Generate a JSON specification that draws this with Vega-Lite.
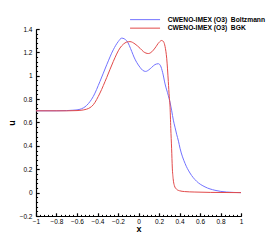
{
  "$schema": "https://vega.github.io/schema/vega-lite/v6.json",
  "autosize": "none",
  "width": 205,
  "height": 187,
  "padding": {"left": 36, "top": 29, "right": 33, "bottom": 28},
  "background": "white",
  "config": {
    "view": {"stroke": null},
    "font": "Liberation Sans",
    "axis": {"labelFont": "Liberation Sans", "titleFont": "Liberation Sans", "labelColor": "black", "titleColor": "black", "grid": false}
  },
  "datasets": {
    "curves": [
      {"x": -1.0, "u": 0.700, "s": "CWENO-IMEX (O3)\u00a0\u00a0Boltzmann"},
      {"x": -0.8, "u": 0.700, "s": "CWENO-IMEX (O3)\u00a0\u00a0Boltzmann"},
      {"x": -0.7, "u": 0.702, "s": "CWENO-IMEX (O3)\u00a0\u00a0Boltzmann"},
      {"x": -0.64, "u": 0.705, "s": "CWENO-IMEX (O3)\u00a0\u00a0Boltzmann"},
      {"x": -0.6, "u": 0.708, "s": "CWENO-IMEX (O3)\u00a0\u00a0Boltzmann"},
      {"x": -0.571, "u": 0.713, "s": "CWENO-IMEX (O3)\u00a0\u00a0Boltzmann"},
      {"x": -0.506, "u": 0.746, "s": "CWENO-IMEX (O3)\u00a0\u00a0Boltzmann"},
      {"x": -0.441, "u": 0.823, "s": "CWENO-IMEX (O3)\u00a0\u00a0Boltzmann"},
      {"x": -0.376, "u": 0.951, "s": "CWENO-IMEX (O3)\u00a0\u00a0Boltzmann"},
      {"x": -0.31, "u": 1.094, "s": "CWENO-IMEX (O3)\u00a0\u00a0Boltzmann"},
      {"x": -0.246, "u": 1.222, "s": "CWENO-IMEX (O3)\u00a0\u00a0Boltzmann"},
      {"x": -0.197, "u": 1.293, "s": "CWENO-IMEX (O3)\u00a0\u00a0Boltzmann"},
      {"x": -0.164, "u": 1.322, "s": "CWENO-IMEX (O3)\u00a0\u00a0Boltzmann"},
      {"x": -0.115, "u": 1.299, "s": "CWENO-IMEX (O3)\u00a0\u00a0Boltzmann"},
      {"x": -0.066, "u": 1.208, "s": "CWENO-IMEX (O3)\u00a0\u00a0Boltzmann"},
      {"x": -0.044, "u": 1.16, "s": "CWENO-IMEX (O3)\u00a0\u00a0Boltzmann"},
      {"x": -0.018, "u": 1.115, "s": "CWENO-IMEX (O3)\u00a0\u00a0Boltzmann"},
      {"x": 0.015, "u": 1.072, "s": "CWENO-IMEX (O3)\u00a0\u00a0Boltzmann"},
      {"x": 0.04, "u": 1.047, "s": "CWENO-IMEX (O3)\u00a0\u00a0Boltzmann"},
      {"x": 0.07, "u": 1.037, "s": "CWENO-IMEX (O3)\u00a0\u00a0Boltzmann"},
      {"x": 0.1, "u": 1.05, "s": "CWENO-IMEX (O3)\u00a0\u00a0Boltzmann"},
      {"x": 0.128, "u": 1.071, "s": "CWENO-IMEX (O3)\u00a0\u00a0Boltzmann"},
      {"x": 0.16, "u": 1.095, "s": "CWENO-IMEX (O3)\u00a0\u00a0Boltzmann"},
      {"x": 0.194, "u": 1.103, "s": "CWENO-IMEX (O3)\u00a0\u00a0Boltzmann"},
      {"x": 0.215, "u": 1.085, "s": "CWENO-IMEX (O3)\u00a0\u00a0Boltzmann"},
      {"x": 0.235, "u": 1.03, "s": "CWENO-IMEX (O3)\u00a0\u00a0Boltzmann"},
      {"x": 0.259, "u": 0.93, "s": "CWENO-IMEX (O3)\u00a0\u00a0Boltzmann"},
      {"x": 0.291, "u": 0.83, "s": "CWENO-IMEX (O3)\u00a0\u00a0Boltzmann"},
      {"x": 0.307, "u": 0.775, "s": "CWENO-IMEX (O3)\u00a0\u00a0Boltzmann"},
      {"x": 0.324, "u": 0.70, "s": "CWENO-IMEX (O3)\u00a0\u00a0Boltzmann"},
      {"x": 0.34, "u": 0.62, "s": "CWENO-IMEX (O3)\u00a0\u00a0Boltzmann"},
      {"x": 0.356, "u": 0.56, "s": "CWENO-IMEX (O3)\u00a0\u00a0Boltzmann"},
      {"x": 0.372, "u": 0.50, "s": "CWENO-IMEX (O3)\u00a0\u00a0Boltzmann"},
      {"x": 0.39, "u": 0.44, "s": "CWENO-IMEX (O3)\u00a0\u00a0Boltzmann"},
      {"x": 0.405, "u": 0.38, "s": "CWENO-IMEX (O3)\u00a0\u00a0Boltzmann"},
      {"x": 0.454, "u": 0.25, "s": "CWENO-IMEX (O3)\u00a0\u00a0Boltzmann"},
      {"x": 0.502, "u": 0.168, "s": "CWENO-IMEX (O3)\u00a0\u00a0Boltzmann"},
      {"x": 0.567, "u": 0.097, "s": "CWENO-IMEX (O3)\u00a0\u00a0Boltzmann"},
      {"x": 0.649, "u": 0.049, "s": "CWENO-IMEX (O3)\u00a0\u00a0Boltzmann"},
      {"x": 0.746, "u": 0.02, "s": "CWENO-IMEX (O3)\u00a0\u00a0Boltzmann"},
      {"x": 0.86, "u": 0.005, "s": "CWENO-IMEX (O3)\u00a0\u00a0Boltzmann"},
      {"x": 1.0, "u": 0.0, "s": "CWENO-IMEX (O3)\u00a0\u00a0Boltzmann"},
      {"x": -1.0, "u": 0.700, "s": "CWENO-IMEX (O3)\u00a0\u00a0BGK"},
      {"x": -0.7, "u": 0.700, "s": "CWENO-IMEX (O3)\u00a0\u00a0BGK"},
      {"x": -0.6, "u": 0.702, "s": "CWENO-IMEX (O3)\u00a0\u00a0BGK"},
      {"x": -0.571, "u": 0.704, "s": "CWENO-IMEX (O3)\u00a0\u00a0BGK"},
      {"x": -0.506, "u": 0.714, "s": "CWENO-IMEX (O3)\u00a0\u00a0BGK"},
      {"x": -0.441, "u": 0.752, "s": "CWENO-IMEX (O3)\u00a0\u00a0BGK"},
      {"x": -0.376, "u": 0.852, "s": "CWENO-IMEX (O3)\u00a0\u00a0BGK"},
      {"x": -0.31, "u": 0.985, "s": "CWENO-IMEX (O3)\u00a0\u00a0BGK"},
      {"x": -0.246, "u": 1.122, "s": "CWENO-IMEX (O3)\u00a0\u00a0BGK"},
      {"x": -0.181, "u": 1.237, "s": "CWENO-IMEX (O3)\u00a0\u00a0BGK"},
      {"x": -0.148, "u": 1.27, "s": "CWENO-IMEX (O3)\u00a0\u00a0BGK"},
      {"x": -0.115, "u": 1.288, "s": "CWENO-IMEX (O3)\u00a0\u00a0BGK"},
      {"x": -0.083, "u": 1.292, "s": "CWENO-IMEX (O3)\u00a0\u00a0BGK"},
      {"x": -0.034, "u": 1.272, "s": "CWENO-IMEX (O3)\u00a0\u00a0BGK"},
      {"x": 0.015, "u": 1.235, "s": "CWENO-IMEX (O3)\u00a0\u00a0BGK"},
      {"x": 0.05, "u": 1.205, "s": "CWENO-IMEX (O3)\u00a0\u00a0BGK"},
      {"x": 0.096, "u": 1.19, "s": "CWENO-IMEX (O3)\u00a0\u00a0BGK"},
      {"x": 0.13, "u": 1.205, "s": "CWENO-IMEX (O3)\u00a0\u00a0BGK"},
      {"x": 0.161, "u": 1.237, "s": "CWENO-IMEX (O3)\u00a0\u00a0BGK"},
      {"x": 0.2, "u": 1.285, "s": "CWENO-IMEX (O3)\u00a0\u00a0BGK"},
      {"x": 0.226, "u": 1.302, "s": "CWENO-IMEX (O3)\u00a0\u00a0BGK"},
      {"x": 0.245, "u": 1.29, "s": "CWENO-IMEX (O3)\u00a0\u00a0BGK"},
      {"x": 0.259, "u": 1.25, "s": "CWENO-IMEX (O3)\u00a0\u00a0BGK"},
      {"x": 0.275, "u": 1.15, "s": "CWENO-IMEX (O3)\u00a0\u00a0BGK"},
      {"x": 0.291, "u": 0.95, "s": "CWENO-IMEX (O3)\u00a0\u00a0BGK"},
      {"x": 0.30, "u": 0.82, "s": "CWENO-IMEX (O3)\u00a0\u00a0BGK"},
      {"x": 0.307, "u": 0.75, "s": "CWENO-IMEX (O3)\u00a0\u00a0BGK"},
      {"x": 0.315, "u": 0.55, "s": "CWENO-IMEX (O3)\u00a0\u00a0BGK"},
      {"x": 0.323, "u": 0.38, "s": "CWENO-IMEX (O3)\u00a0\u00a0BGK"},
      {"x": 0.33, "u": 0.21, "s": "CWENO-IMEX (O3)\u00a0\u00a0BGK"},
      {"x": 0.338, "u": 0.12, "s": "CWENO-IMEX (O3)\u00a0\u00a0BGK"},
      {"x": 0.35, "u": 0.06, "s": "CWENO-IMEX (O3)\u00a0\u00a0BGK"},
      {"x": 0.37, "u": 0.03, "s": "CWENO-IMEX (O3)\u00a0\u00a0BGK"},
      {"x": 0.40, "u": 0.016, "s": "CWENO-IMEX (O3)\u00a0\u00a0BGK"},
      {"x": 0.45, "u": 0.009, "s": "CWENO-IMEX (O3)\u00a0\u00a0BGK"},
      {"x": 0.55, "u": 0.005, "s": "CWENO-IMEX (O3)\u00a0\u00a0BGK"},
      {"x": 0.7, "u": 0.002, "s": "CWENO-IMEX (O3)\u00a0\u00a0BGK"},
      {"x": 1.0, "u": 0.0, "s": "CWENO-IMEX (O3)\u00a0\u00a0BGK"}
    ]
  },
  "data": {"name": "curves"},
  "resolve": {"axis": {"x": "independent", "y": "independent"}},
  "layer": [
    {
      "mark": {"type": "point", "opacity": 0},
      "encoding": {
        "x": {"field": "x", "type": "quantitative", "scale": {"domain": [-1, 1], "nice": false, "zero": false},
          "axis": {"orient": "bottom", "title": null, "labels": false, "domain": false, "tickSize": -1.6, "tickColor": "black", "tickWidth": 1,
            "values": [-1,-0.96,-0.92,-0.88,-0.84,-0.8,-0.76,-0.72,-0.68,-0.64,-0.6,-0.56,-0.52,-0.48,-0.44,-0.4,-0.36,-0.32,-0.28,-0.24,-0.2,-0.16,-0.12,-0.08,-0.04,0,0.04,0.08,0.12,0.16,0.2,0.24,0.28,0.32,0.36,0.4,0.44,0.48,0.52,0.56,0.6,0.64,0.68,0.72,0.76,0.8,0.84,0.88,0.92,0.96,1]}},
        "y": {"field": "u", "type": "quantitative", "scale": {"domain": [-0.2, 1.4], "nice": false, "zero": false},
          "axis": {"orient": "left", "title": null, "labels": false, "domain": false, "tickSize": -1.6, "tickColor": "black", "tickWidth": 1,
            "values": [-0.2,-0.16,-0.12,-0.08,-0.04,0,0.04,0.08,0.12,0.16,0.2,0.24,0.28,0.32,0.36,0.4,0.44,0.48,0.52,0.56,0.6,0.64,0.68,0.72,0.76,0.8,0.84,0.88,0.92,0.96,1,1.04,1.08,1.12,1.16,1.2,1.24,1.28,1.32,1.36,1.4]}}
      }
    },
    {
      "mark": {"type": "line", "interpolate": "monotone", "strokeWidth": 1, "clip": true},
      "encoding": {
        "x": {"field": "x", "type": "quantitative",
          "axis": {"orient": "bottom", "title": "x", "values": [-1,-0.8,-0.6,-0.4,-0.2,0,0.2,0.4,0.6,0.8,1], "format": ".1~f",
            "tickSize": -3.2, "tickWidth": 1.2, "tickColor": "black", "domainColor": "black", "domainWidth": 1.2,
            "labelFontSize": 6.5, "labelPadding": 5.5, "labelFlush": false, "labelOverlap": false, "labelBaseline": "top",
            "titleFontSize": 9, "titleFontWeight": "bold", "titleX": 102.5, "titleY": 12.6, "titleBaseline": "middle", "titleAlign": "center"}},
        "y": {"field": "u", "type": "quantitative",
          "axis": {"orient": "left", "title": "u", "values": [-0.2,0,0.2,0.4,0.6,0.8,1,1.2,1.4], "format": ".1~f",
            "tickSize": -3.2, "tickWidth": 1.2, "tickColor": "black", "domainColor": "black", "domainWidth": 1.2,
            "labelFontSize": 6.5, "labelPadding": 7.2, "labelFlush": false, "labelOverlap": false,
            "titleFontSize": 9, "titleFontWeight": "bold", "titleAngle": -90, "titleX": -24.5, "titleY": 93.5, "titleBaseline": "middle", "titleAlign": "center"}},
        "color": {"field": "s", "type": "nominal",
          "scale": {"domain": ["CWENO-IMEX (O3)\u00a0\u00a0Boltzmann", "CWENO-IMEX (O3)\u00a0\u00a0BGK"], "range": ["#7272ff", "#e24a4a"]},
          "legend": {"title": null, "orient": "none", "legendX": 90.7, "legendY": -12.7, "symbolType": "M0,0H30", "symbolSize": 4, "symbolStrokeWidth": 1,
            "labelFont": "Liberation Sans", "labelFontSize": 6.7, "labelFontWeight": "bold", "labelColor": "black", "labelOffset": 34.3, "rowPadding": 0.5, "padding": 0, "symbolOffset": 0, "labelLimit": 200}}
      }
    }
  ]
}
